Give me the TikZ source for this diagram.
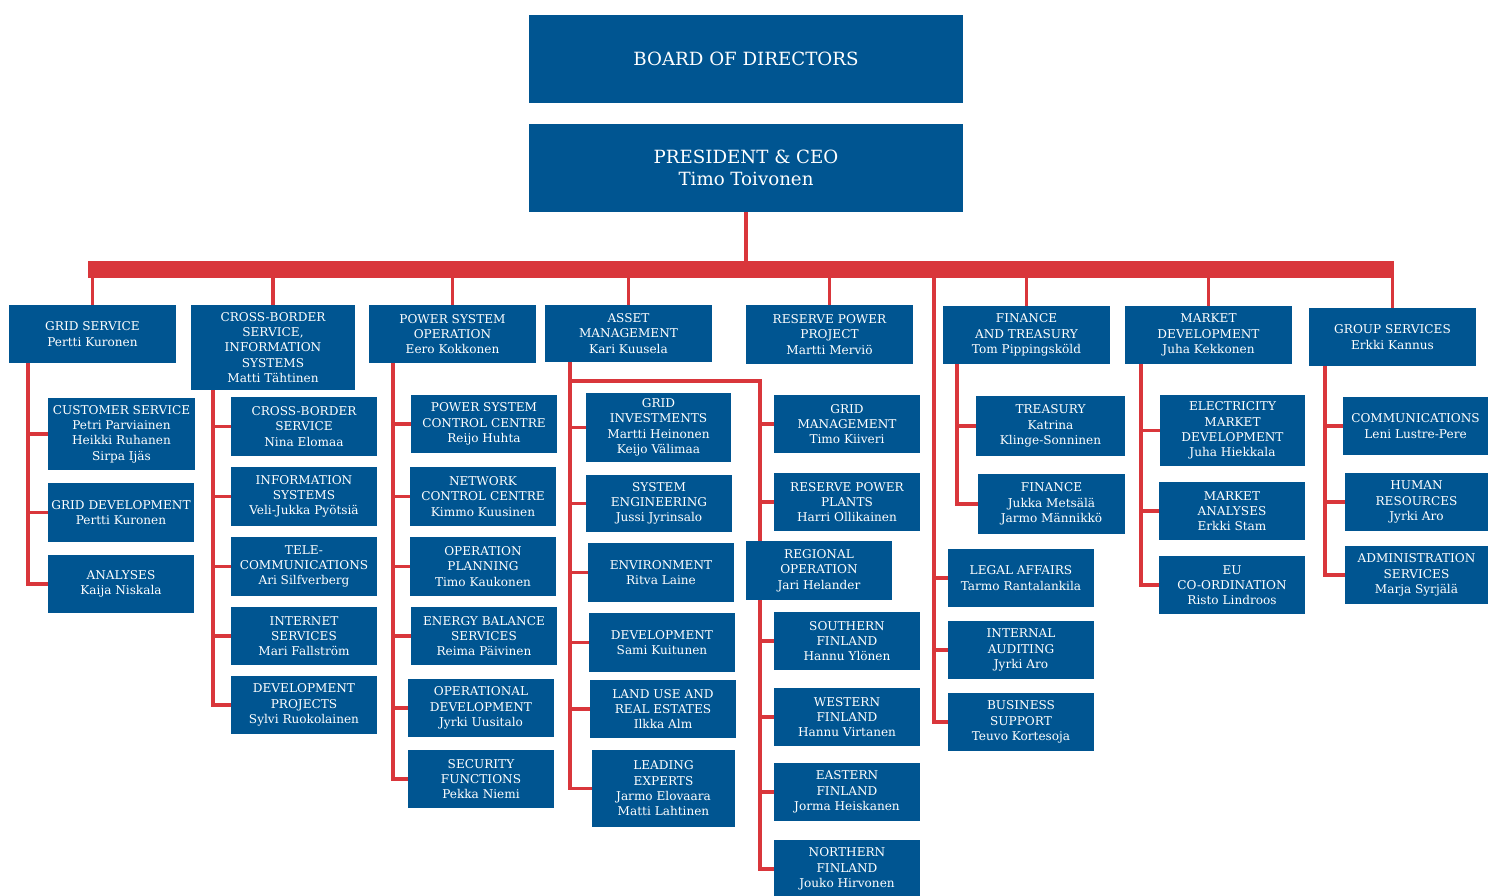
\documentclass[tikz,border=0pt]{standalone}
\usepackage{fontspec}
\setmainfont{DejaVu Serif}
\definecolor{fgblue}{RGB}{0,85,145}
\definecolor{fgred}{RGB}{217,54,59}

\begin{document}
\begin{tikzpicture}[x=1pt,y=-1pt,
	box/.style={fill=fgblue,text=white,align=center,inner sep=0pt,minimum width=146,minimum height=58,font=\fontsize{12.1}{15.3}\selectfont},
	headbox/.style={box,minimum width=434,minimum height=88,font=\fontsize{18.2}{22}\selectfont},
	link/.style={draw=fgred,line width=3.5pt},
	bar/.style={draw=fgred,line width=17pt}]
	\useasboundingbox (0,0) rectangle (1488,896);
	\node[headbox] (board) at (746,59) {BOARD OF DIRECTORS};
	\node[headbox] (ceo) at (746,168) {PRESIDENT \& CEO\\Timo Toivonen};

	\node[box,minimum width=167] (gs) at (92.5,334) {GRID SERVICE\\Pertti Kuronen};
	\node[box,minimum width=164,minimum height=85] (cb) at (273,347.5) {CROSS-BORDER\\SERVICE,\\INFORMATION\\SYSTEMS\\Matti Tähtinen};
	\node[box,minimum width=167] (pso) at (452.5,334) {POWER SYSTEM\\OPERATION\\Eero Kokkonen};
	\node[box,minimum width=167,minimum height=57] (am) at (628.5,333.5) {ASSET\\MANAGEMENT\\Kari Kuusela};
	\node[box,minimum width=167,minimum height=59] (rpp) at (829.5,334.5) {RESERVE POWER\\PROJECT\\Martti Merviö};
	\node[box,minimum width=167] (ft) at (1026.5,335) {FINANCE\\AND TREASURY\\Tom Pippingsköld};
	\node[box,minimum width=167] (md) at (1208.5,335) {MARKET\\DEVELOPMENT\\Juha Kekkonen};
	\node[box,minimum width=167] (grs) at (1392.5,337) {GROUP SERVICES\\Erkki Kannus};

	\node[box,minimum width=147,minimum height=72] (cs) at (121.5,434) {CUSTOMER SERVICE\\Petri Parviainen\\Heikki Ruhanen\\Sirpa Ijäs};
	\node[box,minimum height=59] (gd) at (121,512.5) {GRID DEVELOPMENT\\Pertti Kuronen};
	\node[box] (an) at (121,584) {ANALYSES\\Kaija Niskala};

	\node[box,minimum height=59] (cbs) at (304,426.5) {CROSS-BORDER\\SERVICE\\Nina Elomaa};
	\node[box,minimum height=59] (is) at (304,496.5) {INFORMATION\\SYSTEMS\\Veli-Jukka Pyötsiä};
	\node[box,minimum height=59] (tc) at (304,566.5) {TELE-\\COMMUNICATIONS\\Ari Silfverberg};
	\node[box] (ins) at (304,636) {INTERNET\\SERVICES\\Mari Fallström};
	\node[box] (dp) at (304,705) {DEVELOPMENT\\PROJECTS\\Sylvi Ruokolainen};

	\node[box] (psc) at (484,424) {POWER SYSTEM\\CONTROL CENTRE\\Reijo Huhta};
	\node[box,minimum height=59] (ncc) at (483,496.5) {NETWORK\\CONTROL CENTRE\\Kimmo Kuusinen};
	\node[box,minimum height=59] (op) at (483,566.5) {OPERATION\\PLANNING\\Timo Kaukonen};
	\node[box] (ebs) at (484,636) {ENERGY BALANCE\\SERVICES\\Reima Päivinen};
	\node[box] (od) at (481,708) {OPERATIONAL\\DEVELOPMENT\\Jyrki Uusitalo};
	\node[box] (sf) at (481,779) {SECURITY\\FUNCTIONS\\Pekka Niemi};

	\node[box,minimum width=145,minimum height=69] (gi) at (658.5,427.5) {GRID\\INVESTMENTS\\Martti Heinonen\\Keijo Välimaa};
	\node[box,minimum height=57] (se) at (659,503.5) {SYSTEM\\ENGINEERING\\Jussi Jyrinsalo};
	\node[box,minimum height=59] (env) at (661,572.5) {ENVIRONMENT\\Ritva Laine};
	\node[box,minimum height=59] (dev) at (662,642.5) {DEVELOPMENT\\Sami Kuitunen};
	\node[box] (lu) at (663,709) {LAND USE AND\\REAL ESTATES\\Ilkka Alm};
	\node[box,minimum width=143,minimum height=77] (le) at (663.5,788.5) {LEADING\\EXPERTS\\Jarmo Elovaara\\Matti Lahtinen};

	\node[box] (gm) at (847,424) {GRID\\MANAGEMENT\\Timo Kiiveri};
	\node[box] (rpl) at (847,502) {RESERVE POWER\\PLANTS\\Harri Ollikainen};
	\node[box,minimum height=59] (ro) at (819,570.5) {REGIONAL\\OPERATION\\Jari Helander};
	\node[box] (sof) at (847,641) {SOUTHERN\\FINLAND\\Hannu Ylönen};
	\node[box] (wf) at (847,717) {WESTERN\\FINLAND\\Hannu Virtanen};
	\node[box] (ef) at (847,792) {EASTERN\\FINLAND\\Jorma Heiskanen};
	\node[box] (nf) at (847,869) {NORTHERN\\FINLAND\\Jouko Hirvonen};

	\node[box,minimum width=149,minimum height=60] (tr) at (1050.5,426) {TREASURY\\Katrina\\Klinge-Sonninen};
	\node[box,minimum width=147,minimum height=60] (fi) at (1051.5,504) {FINANCE\\Jukka Metsälä\\Jarmo Männikkö};
	\node[box] (la) at (1021,578) {LEGAL AFFAIRS\\Tarmo Rantalankila};
	\node[box] (ia) at (1021,650) {INTERNAL\\AUDITING\\Jyrki Aro};
	\node[box] (bs) at (1021,722) {BUSINESS\\SUPPORT\\Teuvo Kortesoja};

	\node[box,minimum width=145,minimum height=71] (emd) at (1232.5,430.5) {ELECTRICITY\\MARKET\\DEVELOPMENT\\Juha Hiekkala};
	\node[box] (ma) at (1232,511) {MARKET\\ANALYSES\\Erkki Stam};
	\node[box] (eu) at (1232,585) {EU\\CO-ORDINATION\\Risto Lindroos};

	\node[box,minimum width=145] (com) at (1415.5,426) {COMMUNICATIONS\\Leni Lustre-Pere};
	\node[box,minimum width=143] (hr) at (1416.5,502) {HUMAN\\RESOURCES\\Jyrki Aro};
	\node[box,minimum width=143] (adm) at (1416.5,575) {ADMINISTRATION\\SERVICES\\Marja Syrjälä};

	\coordinate (barL) at (88,269.5);
	\coordinate (barR) at (1394,269.5);
	\draw[bar] (barL) -- (barR);
	\draw[link] (ceo.south) -- (ceo.south |- barL);
	\foreach \n in {gs,cb,pso,am,rpp,ft,md,grs}
		\draw[link] (\n.north) -- (\n.north |- barL);

	\coordinate (gsS) at (28,363);
	\draw[link] (gsS) |- (an.west);
	\foreach \n in {cs,gd}
		\draw[link] (gsS |- \n.west) -- (\n.west);

	\coordinate (cbS) at (213,390);
	\draw[link] (cbS) |- (dp.west);
	\foreach \n in {cbs,is,tc,ins}
		\draw[link] (cbS |- \n.west) -- (\n.west);

	\coordinate (psoS) at (393,363);
	\draw[link] (psoS) |- (sf.west);
	\foreach \n in {psc,ncc,op,ebs,od}
		\draw[link] (psoS |- \n.west) -- (\n.west);

	\coordinate (amS) at (570,362);
	\draw[link] (amS) |- (le.west);
	\foreach \n in {gi,se,env,dev,lu}
		\draw[link] (amS |- \n.west) -- (\n.west);
	\coordinate (amJ) at (570,381);
	\coordinate (roS) at (760,381);
	\draw[link] (amJ) -- (roS) -- (roS |- ro.north);
	\draw[link] (roS |- ro.south) |- (nf.west);
	\foreach \n in {gm,rpl,sof,wf,ef}
		\draw[link] (roS |- \n.west) -- (\n.west);

	\coordinate (ftS) at (957,364);
	\draw[link] (ftS) |- (fi.west);
	\draw[link] (ftS |- tr.west) -- (tr.west);

	\coordinate (stf) at (934,269.5);
	\draw[link] (stf) |- (bs.west);
	\foreach \n in {la,ia}
		\draw[link] (stf |- \n.west) -- (\n.west);

	\coordinate (mdS) at (1141,364);
	\draw[link] (mdS) |- (eu.west);
	\foreach \n in {emd,ma}
		\draw[link] (mdS |- \n.west) -- (\n.west);

	\coordinate (grsS) at (1325,366);
	\draw[link] (grsS) |- (adm.west);
	\foreach \n in {com,hr}
		\draw[link] (grsS |- \n.west) -- (\n.west);
\end{tikzpicture}
\end{document}
